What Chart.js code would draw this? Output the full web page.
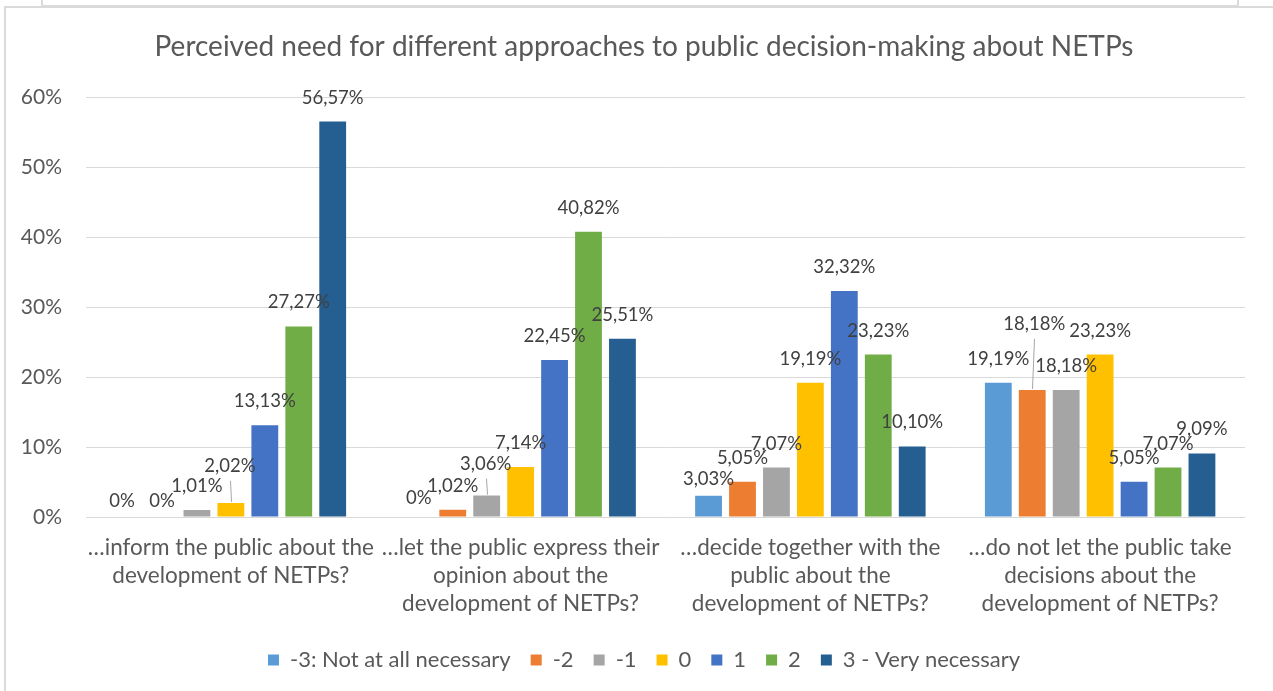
<!DOCTYPE html>
<html>
<head>
<meta charset="utf-8">
<script src="https://cdn.jsdelivr.net/npm/chart.js@4.4.1/dist/chart.umd.min.js"></script>
<style>
  html, body { margin: 0; padding: 0; background: #fff; overflow: hidden; }
  #topBox { position: absolute; left: 41px; top: -20px; width: 1194px; height: 23px; border: 2px solid #dadada; }
  #frame { position: absolute; left: 4px; top: 6px; width: 1400px; height: 800px; border-left: 2px solid #dadada; border-top: 2px solid #dadada; }
  #chart_needs { position: absolute; left: 0; top: 0; }
</style>
</head>
<body>
<div id="topBox"></div>
<div id="frame"></div>
<canvas id="chart_needs" width="1273" height="691"></canvas>
<script>
const categories = [
    ['\u2026inform the public about the', 'development of NETPs?'],
    ['\u2026let the public express their', 'opinion about the', 'development of NETPs?'],
    ['\u2026decide together with the', 'public about the', 'development of NETPs?'],
    ['\u2026do not let the public take', 'decisions about the', 'development of NETPs?']
];
const seriesNames = ['-3: Not at all necessary', '-2', '-1', '0', '1', '2', '3 - Very necessary'];
const notAtAll = [0, 0, 3.03, 19.19];
const minusTwo = [0, 1.02, 5.05, 18.18];
const minusOne = [1.01, 3.06, 7.07, 18.18];
const zero = [2.02, 7.14, 19.19, 23.23];
const plusOne = [13.13, 22.45, 32.32, 5.05];
const plusTwo = [27.27, 40.82, 23.23, 7.07];
const veryNecessary = [56.57, 25.51, 10.10, 9.09];
const yTicks = [0, 10, 20, 30, 40, 50, 60];

const seriesValues = [notAtAll, minusTwo, minusOne, zero, plusOne, plusTwo, veryNecessary];

const colors = [
    '#5b9bd5',  // light blue
    '#ed7d31',  // orange
    '#a5a5a5',  // grey
    '#ffc000',  // yellow
    '#4472c4',  // blue
    '#70ad47',  // green
    '#255e91'   // dark blue
];

const FONT = 'Lato, "Open Sans", sans-serif';
const textGrey = '#595959';

// label nudges where Excel moved a label out of the way: [dx, dy, leader line]
const labelNudge = {
    '0-0': [-7, 8], '1-0': [-1, 8], '0-1': [0, 5], '0-2': [0, 7],
    '3-0': [-1, -13, true], '2-1': [-1, -8, true], '1-3': [2, -42, true]
};

function fmt(v) {
    if (v === 0) return '0%';
    return v.toFixed(2).replace('.', ',') + '%';
}

const barLabels = {
    id: 'barLabels',
    afterDatasetsDraw(chart) {
        const ctx = chart.ctx;
        ctx.save();
        ctx.font = '18.5px ' + FONT;
        ctx.fillStyle = '#404040';
        ctx.textAlign = 'center';
        ctx.textBaseline = 'middle';
        chart.data.datasets.forEach((ds, di) => {
            chart.getDatasetMeta(di).data.forEach((bar, i) => {
                const n = labelNudge[di + '-' + i] || [0, 0];
                const x = bar.x + n[0];
                const y = bar.y - 24 + n[1];
                if (n[2]) {
                    ctx.strokeStyle = '#a6a6a6';
                    ctx.lineWidth = 1;
                    ctx.beginPath();
                    ctx.moveTo(Math.round(x) + 0.5, y + 15);
                    ctx.lineTo(Math.round(bar.x) + 0.5, bar.y - 1);
                    ctx.stroke();
                }
                ctx.fillText(fmt(ds.data[i]), x, y);
            });
        });
        ctx.restore();
    }
};

// title and legend are centred on the whole frame, not on the plot
const shiftBlocks = {
    id: 'shiftBlocks',
    afterLayout(chart) {
        if (chart.titleBlock) chart.titleBlock.left = 43;
        if (chart.legend) chart.legend.left = 43;
    }
};

var datasets = seriesNames.map((name, index) => ({
    label: name,
    data: seriesValues[index],
    backgroundColor: colors[index],
    borderWidth: 0,
    barPercentage: 0.79,
    categoryPercentage: 0.82
}));

var ctx_needs = document.getElementById('chart_needs').getContext('2d');
var chart_needs = new Chart(ctx_needs, {
    type: 'bar',
    data: { labels: categories, datasets: datasets },
    plugins: [barLabels, shiftBlocks],
    options: {
        responsive: false,
        animation: false,
        devicePixelRatio: 1,
        layout: { padding: { left: 0, right: 28, top: 0, bottom: 10 } },
        plugins: {
            title: {
                display: true,
                text: 'Perceived need for different approaches to public decision-making about NETPs',
                color: textGrey,
                font: { family: FONT, size: 28, weight: 'normal', lineHeight: 1.2 },
                padding: { top: 30, bottom: 34 }
            },
            legend: {
                position: 'bottom',
                labels: {
                    color: textGrey,
                    font: { family: FONT, size: 22 },
                    boxWidth: 11,
                    boxHeight: 11,
                    padding: 20
                }
            },
            tooltip: { enabled: false }
        },
        scales: {
            x: {
                grid: { display: false, drawTicks: false },
                border: { display: false },
                ticks: {
                    color: textGrey,
                    font: { family: FONT, size: 22.5, lineHeight: 28 / 22.5 },
                    padding: 17,
                    maxRotation: 0,
                    autoSkip: false
                },
                afterFit: scale => { scale.height = 112; }
            },
            y: {
                min: 0,
                max: 60,
                afterBuildTicks: scale => { scale.ticks = yTicks.map(v => ({ value: v })); },
                grid: { color: '#d9d9d9', lineWidth: 1, drawTicks: false },
                border: { display: false },
                ticks: {
                    color: textGrey,
                    font: { family: FONT, size: 21 },
                    padding: 24,
                    callback: v => v + '%'
                },
                afterFit: scale => { scale.width = 86; }
            }
        }
    }
});
</script>
</body>
</html>
